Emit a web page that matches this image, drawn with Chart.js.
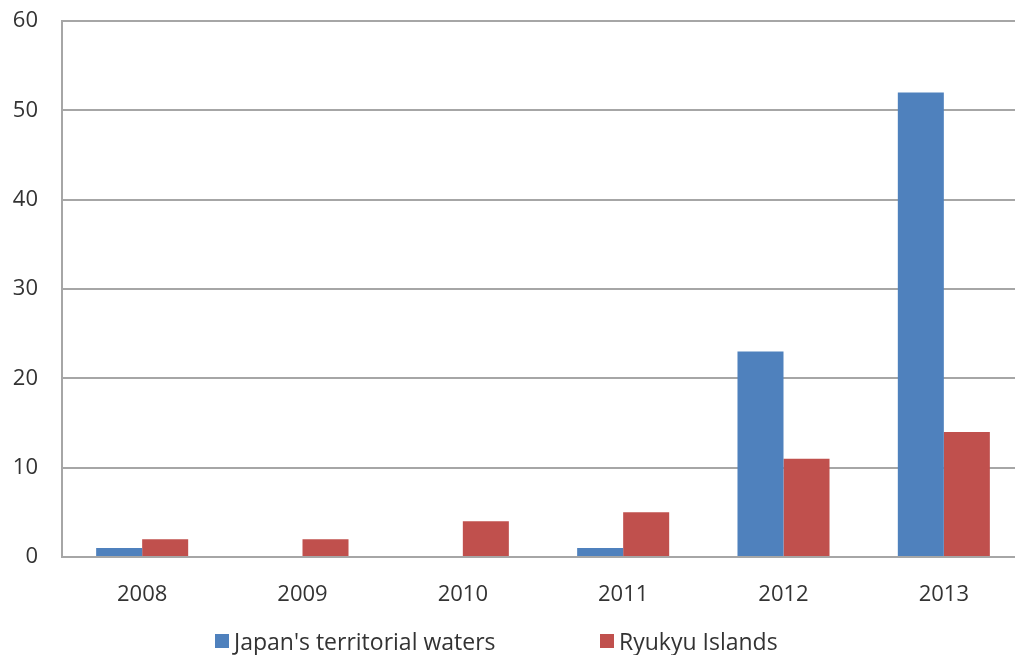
<!DOCTYPE html>
<html>
<head>
<meta charset="utf-8">
<script src="https://cdn.jsdelivr.net/npm/chart.js@4/dist/chart.umd.min.js"></script>
<style>
  html, body { margin: 0; padding: 0; background: #fff; overflow: hidden; }
  #wrap { position: relative; width: 1015px; height: 655px; overflow: hidden; }
  #legend {
    position: absolute; top: 628px; left: 0; width: 1015px; height: 26px;
    font-family: "Open Sans", sans-serif; font-size: 23px; color: #333;
  }
  .item { position: absolute; top: 0; display: flex; align-items: center; height: 26px; }
  .swatch { width: 14px; height: 14px; margin-right: 5px; }
</style>
</head>
<body>
<div id="wrap">
  <!-- canvas a bit wider than the view: the original plot runs past the right edge -->
  <canvas id="chart" width="1030" height="655"></canvas>
  <div id="legend"></div>
</div>
<script>
const years = ["2008", "2009", "2010", "2011", "2012", "2013"];
const seriesNames = ["Japan's territorial waters", "Ryukyu Islands"];
const territorialWaters = [1, 0, 0, 1, 23, 52];
const ryukyuIslands = [2, 2, 4, 5, 11, 14];
const seriesColors = ["#4f81bd", "#c0504d"];

const gridColor = "#a6a6a6";
const textColor = "#333333";
const fontFamily = "'Open Sans', sans-serif";

new Chart(document.getElementById("chart"), {
  type: "bar",
  data: {
    labels: years,
    datasets: [
      { label: seriesNames[0], data: territorialWaters, backgroundColor: seriesColors[0] },
      { label: seriesNames[1], data: ryukyuIslands, backgroundColor: seriesColors[1] },
    ],
  },
  options: {
    responsive: false,
    animation: false,
    layout: { padding: { left: 12, right: 6, top: 21, bottom: 0 } },
    datasets: { bar: { categoryPercentage: 0.574, barPercentage: 1.0 } },
    plugins: { legend: { display: false }, tooltip: { enabled: false } },
    scales: {
      x: {
        grid: { display: false, drawTicks: false },
        border: { display: true, color: gridColor, width: 2 },
        ticks: { padding: 25, color: textColor, font: { family: fontFamily, size: 22 } },
        afterFit: (scale) => {
          scale.height = 98;
          scale.paddingLeft = 0;
          scale.paddingRight = 0;
        },
      },
      y: {
        min: 0,
        max: 60,
        ticks: { stepSize: 10, padding: 24, color: textColor, font: { family: fontFamily, size: 22 } },
        grid: { color: gridColor, lineWidth: 2, drawTicks: false },
        border: { display: true, color: gridColor, width: 2 },
        afterFit: (scale) => {
          scale.width = 50;
          scale.paddingTop = 0;
          scale.paddingBottom = 0;
        },
      },
    },
  },
});

// legend laid out like the original: two entries spread under the plot
const legendLeft = [215, 600];
const legend = document.getElementById("legend");
seriesNames.forEach((name, i) => {
  const el = document.createElement("div");
  el.className = "item";
  el.style.left = legendLeft[i] + "px";
  el.innerHTML = `<div class="swatch" style="background:${seriesColors[i]}"></div><span>${name}</span>`;
  legend.appendChild(el);
});
</script>
</body>
</html>
